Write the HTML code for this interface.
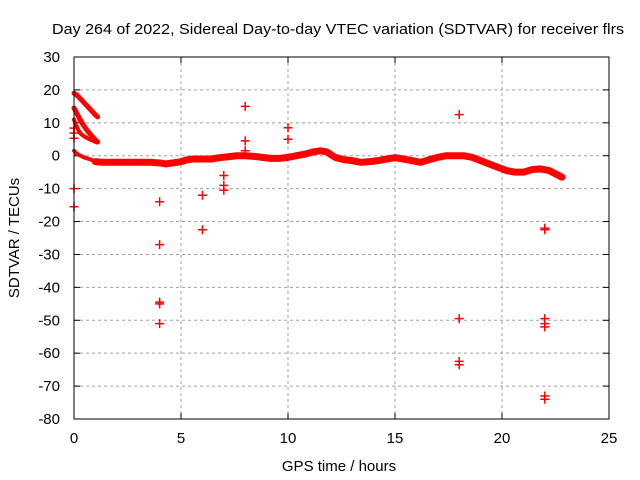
<!DOCTYPE html>
<html><head><meta charset="utf-8"><style>
html,body{margin:0;padding:0;background:#fff;}
svg{display:block;font-family:"Liberation Sans",sans-serif;}
</style></head><body>
<svg id="chart" width="640" height="480">
<rect width="640" height="480" fill="#fff"/>
<text x="338" y="34" font-size="15" text-anchor="middle" textLength="572" lengthAdjust="spacingAndGlyphs">Day 264 of 2022, Sidereal Day-to-day VTEC variation (SDTVAR) for receiver flrs</text>
<g id="grid"></g>
<g id="ticks"></g>
<g id="data"></g>
<rect x="74" y="57" width="535" height="362" fill="none" stroke="#000" stroke-width="1"/>
<text x="339" y="471" font-size="15" text-anchor="middle">GPS time / hours</text>
<text transform="translate(19,238) rotate(-90)" font-size="15" text-anchor="middle">SDTVAR / TECUs</text>
</svg>
<script>
const xTicks=[0,5,10,15,20,25];
const yTicks=[30,20,10,0,-10,-20,-30,-40,-50,-60,-70,-80];
// main trace (hours, TECU)
const mainHours=[1.0,1.3,1.6,2.0,2.4,2.8,3.2,3.6,4.0,4.3,4.6,5.0,5.3,5.6,6.0,6.4,6.8,7.2,7.6,8.0,8.4,8.8,9.2,9.6,10.0,10.4,10.8,11.2,11.5,11.8,12.2,12.6,13.0,13.4,13.8,14.2,14.6,15.0,15.4,15.8,16.2,16.6,17.0,17.4,17.8,18.2,18.6,19.0,19.4,19.8,20.2,20.6,21.0,21.4,21.8,22.2,22.5,22.8];
const mainVals=[-1.8,-2,-2,-2,-2,-2,-2,-2,-2.2,-2.5,-2.2,-1.8,-1.2,-1,-1,-1,-0.6,-0.3,0,0,-0.2,-0.5,-0.8,-0.8,-0.5,0,0.5,1.2,1.5,1.2,-0.5,-1.2,-1.5,-2,-1.8,-1.5,-1,-0.6,-1,-1.5,-2,-1.2,-0.5,0,0,0,-0.5,-1.5,-2.5,-3.5,-4.5,-5,-5,-4.2,-4,-4.5,-5.5,-6.5];
// early arcs
const arcHours=[0,0.1,0.2,0.3,0.4,0.5,0.6,0.7,0.8,0.9,1.0,1.1];
const arcA=[19,18.6,18,17.3,16.6,15.9,15.2,14.5,13.8,13.1,12.4,11.8];
const arcB=[14.5,13.3,12,10.8,9.7,8.7,7.8,7,6.2,5.5,4.8,4.2];
const arcC=[11,9.2,7.8,6.8,6.2,5.8,5.4,5.1,4.8,4.5,4.2,4];
const arcD=[1.5,0.8,0.3,0,-0.3,-0.6,-0.8,-1,-1.2,-1.5,-1.8,-2];
// outliers
const outHours=[0,0,0,0,0,4,4,4,4,4,6,6,7,7,7,8,8,8,10,10,18,18,18,18,22,22,22,22,22,22,22];
const outVals=[8.4,6.9,5.3,-10,-15.5,-14,-27,-44.5,-45,-51,-12,-22.5,-6,-9,-10.5,15,4.5,1.5,8.5,5,12.5,-49.5,-62.5,-63.5,-22,-22.5,-49.5,-51,-52,-73,-74];

const X0=74,X1=609,Y0=57,Y1=419;
const xs=h=>X0+(h-0)/25*(X1-X0);
const ys=v=>Y0+(30-v)/110*(Y1-Y0);
const NS="http://www.w3.org/2000/svg";
function mk(tag,attrs,parent){const e=document.createElementNS(NS,tag);for(const k in attrs)e.setAttribute(k,attrs[k]);parent.appendChild(e);return e;}
const grid=document.getElementById('grid'),ticks=document.getElementById('ticks'),data=document.getElementById('data');
xTicks.forEach(t=>{const x=xs(t);
 if(t>0&&t<25){const g=mk('line',{x1:x,x2:x,y1:Y0,y2:Y1,stroke:'#a0a0a0','stroke-dasharray':'3,3'},grid);
 
 }
 mk('line',{x1:x,x2:x,y1:Y1,y2:Y1-6,stroke:'#000'},ticks);
 mk('line',{x1:x,x2:x,y1:Y0,y2:Y0+6,stroke:'#000'},ticks);
 const l=mk('text',{x:x,y:443,'font-size':15,'text-anchor':'middle'},ticks);l.textContent=t;
 
 });
yTicks.forEach(t=>{const y=ys(t);
 if(t<30&&t>-80){const g=mk('line',{x1:X0,x2:X1,y1:y,y2:y,stroke:'#a0a0a0','stroke-dasharray':'3,3'},grid);
 
 }
 mk('line',{x1:X0,x2:X0+6,y1:y,y2:y,stroke:'#000'},ticks);
 mk('line',{x1:X1,x2:X1-6,y1:y,y2:y,stroke:'#000'},ticks);
 const l=mk('text',{x:60,y:y+5,'font-size':15,'text-anchor':'end'},ticks);l.textContent=t;
 
 });
function band(hs,vs,w,name){const pts=hs.map((h,i)=>xs(h)+','+ys(vs[i])).join(' ');
 const p=mk('polyline',{points:pts,fill:'none',stroke:'#ff0000','stroke-width':w,'stroke-linejoin':'round','stroke-linecap':'round'},data);
 
 }
band(mainHours,mainVals,7,'main-trace');
band(arcHours,arcA,5,'arc-a');
band(arcHours,arcB,5,'arc-b');
band(arcHours,arcC,4,'arc-c');
band(arcHours,arcD,4,'arc-d');
outHours.forEach((h,i)=>{const x=xs(h),y=ys(outVals[i]);
 const p=mk('path',{d:`M${x-4.5},${y}H${x+4.5}M${x},${y-4.5}V${y+4.5}`,stroke:'#ff0000','stroke-width':1.5},data);
 
 });
</script>
</body></html>
